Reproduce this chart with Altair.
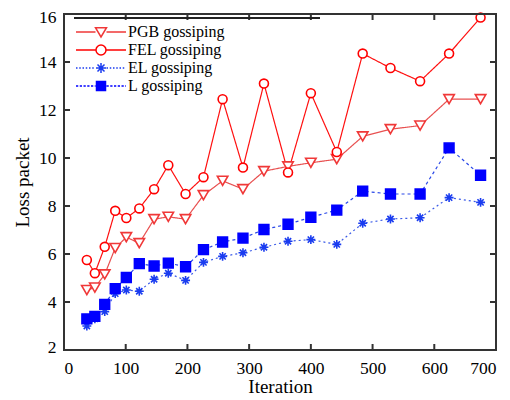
import altair as alt
import pandas as pd

iterations = [37, 50, 66, 83, 101, 122, 146, 169, 197, 226, 257, 290, 324, 363, 400, 442, 484, 529, 577, 624, 675]
pgb = [4.5, 4.6, 5.15, 6.25, 6.7, 6.45, 7.45, 7.55, 7.45, 8.45, 9.05, 8.7, 9.45, 9.65, 9.8, 9.95, 10.9, 11.2, 11.35, 12.45, 12.45]
fel = [5.75, 5.2, 6.3, 7.8, 7.5, 7.9, 8.7, 9.7, 8.5, 9.2, 12.45, 9.6, 13.1, 9.4, 12.7, 10.25, 14.35, 13.75, 13.2, 14.35, 15.85]
el = [3.0, 3.3, 3.6, 4.35, 4.5, 4.45, 4.95, 5.2, 4.9, 5.65, 5.9, 6.05, 6.28, 6.53, 6.6, 6.4, 7.28, 7.46, 7.51, 8.35, 8.15]
lgo = [3.3, 3.4, 3.9, 4.56, 5.02, 5.6, 5.5, 5.62, 5.47, 6.18, 6.5, 6.66, 7.02, 7.24, 7.53, 7.83, 8.62, 8.5, 8.5, 10.42, 9.28]
series_names = ["PGB gossiping", "FEL gossiping", "EL gossiping", "L gossiping"]
x_ticks = [100, 200, 300, 400, 500, 600]
y_ticks = [4, 6, 8, 10, 12, 14]

rows = []
for name, vals in zip(series_names, [pgb, fel, el, lgo]):
    for it, v in zip(iterations, vals):
        rows.append({"series": name, "iter": it, "loss": v})
df = pd.DataFrame(rows)

W, H = 432, 336
SERIF = "Liberation Serif"
xs = alt.Scale(domain=[0, 700], nice=False)
ys = alt.Scale(domain=[2, 16], nice=False)

ASTER = "M-1,0H1M0,-1V1M-0.7,-0.7L0.7,0.7M-0.7,0.7L0.7,-0.7"
styles = {
    "PGB gossiping": dict(color="#f03838", line="#e85050", dash=[1, 0], shape="triangle-down", fill="white", size=110),
    "FEL gossiping": dict(color="#ff0000", line="#ff1010", dash=[1, 0], shape="circle", fill="white", size=80),
    "EL gossiping": dict(color="#1a3cf0", line="#3a5ae8", dash=[2, 3], shape=ASTER, fill="none", size=80),
    "L gossiping": dict(color="#0000ff", line="#2a48e8", dash=[3, 3], shape="square", fill="#0000ff", size=95),
}

X = alt.X("iter:Q", scale=xs, axis=alt.Axis(title="Iteration", values=[0, 100, 200, 300, 400, 500, 600, 700]))
Y = alt.Y("loss:Q", scale=ys, axis=alt.Axis(title="Loss packet", values=[2, 4, 6, 8, 10, 12, 14, 16],
                                            labelFlush=True, labelFlushOffset=6))

layers = []
for name in series_names:
    s = styles[name]
    base = alt.Chart(df).transform_filter(alt.datum.series == name)
    layers.append(base.mark_line(color=s["line"], strokeWidth=1.2, strokeDash=s["dash"]).encode(x=X, y=Y))
for name in series_names:
    s = styles[name]
    base = alt.Chart(df).transform_filter(alt.datum.series == name)
    layers.append(base.mark_point(shape=s["shape"], size=s["size"], stroke=s["color"], fill=s["fill"],
                                  filled=False, strokeWidth=1.6, opacity=1, fillOpacity=1).encode(x=X, y=Y))

# inward ticks
tick_x = pd.DataFrame({"t": x_ticks})
tick_y = pd.DataFrame({"t": y_ticks})
tk = dict(color="#333333", strokeWidth=2)
layers.append(alt.Chart(tick_x).mark_rule(**tk).encode(x=alt.X("t:Q", scale=xs), y=alt.value(H), y2=alt.value(H - 6)))
layers.append(alt.Chart(tick_x).mark_rule(**tk).encode(x=alt.X("t:Q", scale=xs), y=alt.value(0), y2=alt.value(6)))
layers.append(alt.Chart(tick_y).mark_rule(**tk).encode(y=alt.Y("t:Q", scale=ys), x=alt.value(0), x2=alt.value(6)))
layers.append(alt.Chart(tick_y).mark_rule(**tk).encode(y=alt.Y("t:Q", scale=ys), x=alt.value(W), x2=alt.value(W - 6)))
# top frame edge and legend box top edge
layers.append(alt.Chart(tick_x).mark_rule(color="#333333", strokeWidth=2).encode(
    y=alt.value(0), x=alt.value(0), x2=alt.value(W)))
layers.append(alt.Chart(tick_x).mark_rule(color="#222222", strokeWidth=1.5).encode(
    y=alt.value(4), x=alt.value(10), x2=alt.value(256)))


def dotted(a, b, on, off):
    segs = []
    p = a
    while p < b:
        q = min(p + on, b)
        segs.append(f"M{p:.2f},0H{q:.2f}")
        p = q + off
    return "".join(segs)


solid_l = "M-5,0H-1.1M1.1,0H5"
leg_paths = [
    solid_l + "M-1.1,-0.85L1.1,-0.85L0,1Z",
    solid_l + "M1,0A1,1 0 1,1 -1,0A1,1 0 1,1 1,0Z",
    dotted(-5, -1.1, 0.3, 0.35) + dotted(1.1, 5, 0.3, 0.35) + ASTER,
    dotted(-5, -1.1, 0.45, 0.3) + dotted(1.1, 5, 0.45, 0.3) + "M-0.9,-0.9H0.9V0.9H-0.9Z",
]
legend_layer = alt.Chart(df).transform_filter("datum.iter < 0").mark_point(filled=False, strokeWidth=1.5, opacity=1).encode(
    x=alt.X("iter:Q", scale=xs),
    y=alt.Y("loss:Q", scale=ys),
    color=alt.Color("series:N", scale=alt.Scale(domain=series_names, range=[styles[n]["color"] for n in series_names]),
                    legend=alt.Legend(title=None, orient="none", legendX=29, legendY=10,
                                      labelFont=SERIF, labelFontSize=16, labelColor="black",
                                      symbolSize=100, labelOffset=19, rowPadding=2, padding=0,
                                      symbolStrokeWidth=1.5, labelLimit=300)),
    shape=alt.Shape("series:N", scale=alt.Scale(domain=series_names, range=leg_paths)),
    fill=alt.Fill("series:N", scale=alt.Scale(domain=series_names, range=["white", "white", "white", "#0000ff"])),
)
layers.append(legend_layer)

chart = alt.layer(*layers).properties(
    width=W, height=H,
    autosize=alt.AutoSizeParams(type="none"),
    padding={"left": 56, "top": 6, "right": 6, "bottom": 48},
).configure_view(stroke="#333333", strokeWidth=2).configure_axis(
    grid=False, domain=False, ticks=False,
    labelFont=SERIF, labelFontSize=17.5, labelColor="black",
    titleFont=SERIF, titleFontSize=19, titleFontWeight="normal", titleColor="black",
).configure_axisX(labelPadding=9, titlePadding=1).configure_axisY(labelPadding=8, titlePadding=6)

chart.save("out.html", embed_options={"renderer": "svg", "actions": False})
